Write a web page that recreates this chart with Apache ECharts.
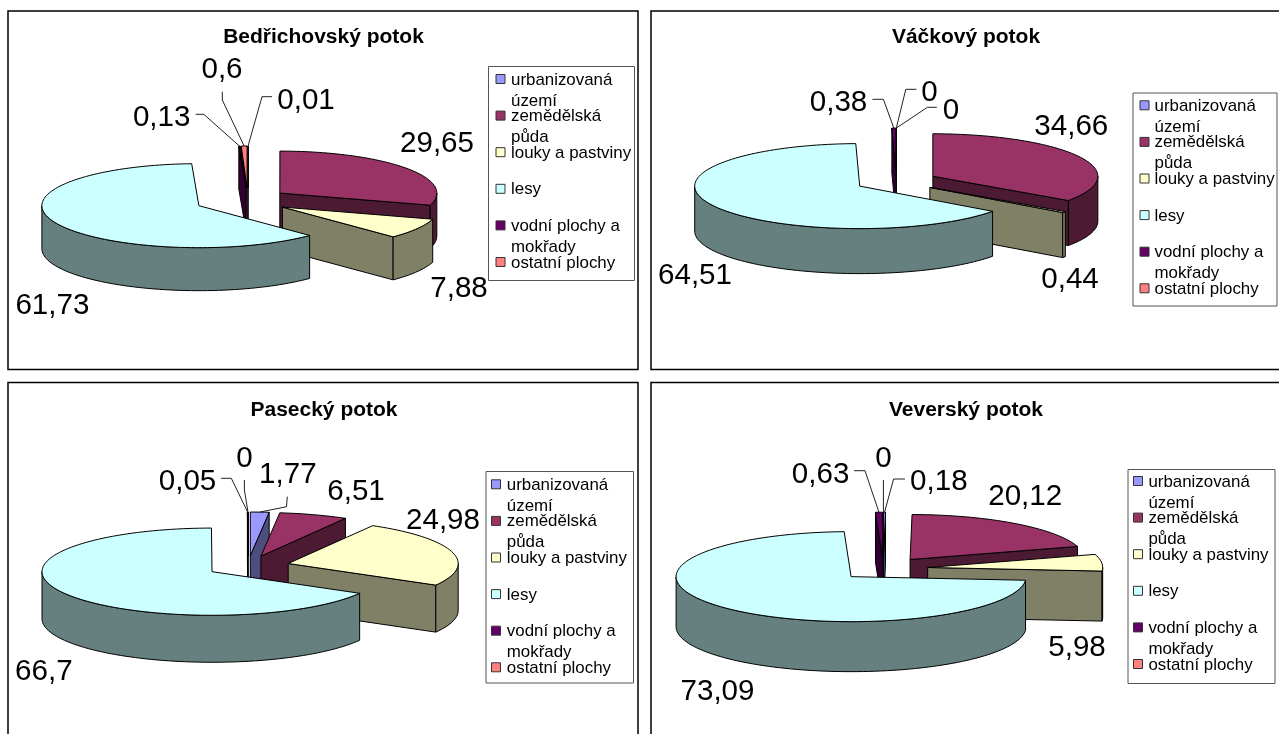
<!DOCTYPE html>
<html lang="cs">
<head>
<meta charset="utf-8">
<title>Využití půdy v povodích</title>
<style>
  html, body { margin: 0; padding: 0; background: #fff; }
  #chart { width: 1279px; height: 734px; }
</style>
<script src="https://cdn.jsdelivr.net/npm/echarts@6/dist/echarts.min.js"></script>
</head>
<body>
<div id="chart"></div>
<script>
// Land use categories, clockwise from twelve o'clock
const categories = ['urbanizovaná\núzemí', 'zemědělská\npůda', 'louky a pastviny', 'lesy', 'vodní plochy a\nmokřady', 'ostatní plochy'];
const basins = ['Bedřichovský potok', 'Váčkový potok', 'Pasecký potok', 'Veverský potok'];

// Percentage share per basin, same order as categories
const bedrichovsky = [0.01, 29.65, 7.88, 61.73, 0.13, 0.6];
const vackovy = [0, 34.66, 0.44, 64.51, 0.38, 0];
const pasecky = [1.77, 6.51, 24.98, 66.7, 0.05, 0];
const veversky = [0.18, 20.12, 5.98, 73.09, 0.63, 0];
const basinValues = [bedrichovsky, vackovy, pasecky, veversky];

const topColors = ['#9999FF', '#993366', '#FFFFCC', '#CCFFFF', '#660066', '#FF8080'];
const sideColors = ['#4D4D80', '#4D1A33', '#808066', '#668080', '#330033', '#804040'];

// Panel layout: pie ellipse, extrusion, explosion, frame, legend box, title and label placement
const layouts = [
  { cx: 242, cy: 200.6, rx: 157, ry: 42, depth: 43, explode: 0.3, thinShift: 6,
    frame: [8, 11, 638, 369.5], legend: [488.5, 66.5, 634.5, 280.5], swatchX: 500.5, rowY: 79, textX: 511,
    title: [323.5, 36.5],
    labels: [
      { at: [306, 99], lead: [[272, 96.7], [262, 96.7]] },
      { at: [437, 141.7] }, { at: [459, 286.7] }, { at: [52.4, 304] },
      { at: [161.7, 115.7], lead: [[195.7, 114.3], [203.8, 114.3]] },
      { at: [222, 68], lead: [[222.3, 91.7], [222.3, 100]] }
    ] },
  { cx: 896.3, cy: 181.2, rx: 165, ry: 42.5, depth: 45, explode: 0.25, thinShift: 0,
    frame: [651, 11, 1290, 369.5], legend: [1133, 93, 1277, 306], swatchX: 1144.5, rowY: 105.3, textX: 1154.5,
    title: [966, 36.5],
    labels: [
      { at: [951, 109], lead: [[936.8, 107.3], [927.4, 107.3]] },
      { at: [1071.3, 125] }, { at: [1070, 278.3] }, { at: [695, 274] },
      { at: [838.5, 101], lead: [[872.4, 99.3], [883.4, 99.3]] },
      { at: [929.4, 90.7], lead: [[916.4, 89.3], [905.8, 89.3]] }
    ] },
  { cx: 248, cy: 566.3, rx: 170, ry: 43.6, depth: 47, explode: 0.245, thinShift: 0,
    frame: [8, 382.5, 638, 745], legend: [486, 471.5, 633.5, 683], swatchX: 496, rowY: 484.3, textX: 506.8,
    title: [324, 409],
    labels: [
      { at: [287.8, 473.3], lead: [[287.3, 496.7], [286.5, 506.7]] },
      { at: [356, 490] }, { at: [443, 519] }, { at: [43.8, 670] },
      { at: [187.5, 480], lead: [[221, 478.3], [231.3, 478.3]] },
      { at: [244.4, 456.7], lead: [[244.4, 480], [244.4, 490]] }
    ] },
  { cx: 883.3, cy: 568.7, rx: 175, ry: 45, depth: 50, explode: 0.255, thinShift: 0,
    frame: [651, 382.5, 1290, 745], legend: [1128, 469.5, 1275, 683.5], swatchX: 1138, rowY: 481, textX: 1148.4,
    title: [966, 409],
    labels: [
      { at: [938.8, 480], lead: [[905, 479], [893.6, 479]] },
      { at: [1025.2, 495] }, { at: [1077, 645.7] }, { at: [717.5, 690] },
      { at: [820.6, 472.7], lead: [[854, 470.7], [865, 470.7]] },
      { at: [883.4, 456.7], lead: [[883.4, 480], [883.4, 511]] }
    ] }
];

const FONT = '"Liberation Sans", Arial, sans-serif';
const VALUE_STRETCH = 1.02;
const LEGEND_STRETCH = 1.03;
const TITLE_STRETCH = 1.05;
const ROW_PITCH = 36.6;
const WRAP_PITCH = 21;
const DEG = Math.PI / 180;

// Turn a share list into exploded wedges with screen geometry
function buildWedges(values, p) {
  const total = values.reduce((a, b) => a + b, 0);
  let cum = 0;
  const wedges = values.map((v, i) => {
    const t0 = cum / total * 360;
    cum += v;
    const t1 = cum / total * 360;
    const mid = (t0 + t1) / 2;
    // Slivers near twelve o'clock sit a touch right of the pie's centre line
    const shift = (t1 - t0) < 5 && (mid < 10 || mid > 350) ? p.thinShift : 0;
    const ax = p.cx + shift + p.explode * p.rx * Math.sin(mid * DEG);
    const ay = p.cy - p.explode * p.ry * Math.cos(mid * DEG);
    const rim = t => [ax + p.rx * Math.sin(t * DEG), ay - p.ry * Math.cos(t * DEG)];
    const arc = (a, b) => {
      const n = Math.max(1, Math.ceil((b - a) / 2));
      const pts = [];
      for (let k = 0; k <= n; k++) pts.push(rim(a + (b - a) * k / n));
      return pts;
    };
    const topArc = arc(t0, t1);
    const frontY = Math.max(ay, ...topArc.map(q => q[1]));
    return { i, v, t0, t1, mid, ax, ay, rim, arc, topArc, frontY };
  });
  // Back to front, so nearer wedges paint over farther ones
  return wedges.slice().sort((a, b) => a.frontY - b.frontY);
}

function wedgeElements(w, p, rank) {
  const line = { stroke: '#000', lineWidth: 1, lineJoin: 'round' };
  const drop = q => [q[0], q[1] + p.depth];
  const kids = [];
  let z = rank * 10;
  const face = (points, fill) => kids.push({
    type: 'polygon', z2: z++, shape: { points }, style: Object.assign({ fill }, line)
  });
  const cut = t => {
    const r = w.rim(t), a = [w.ax, w.ay];
    face([a, r, drop(r), drop(a)], sideColors[w.i]);
  };
  // Cut faces show only when they turn towards the viewer
  if (Math.sin(w.t0 * DEG) < 0) cut(w.t0);
  if (Math.sin(w.t1 * DEG) > 0) cut(w.t1);
  const from = Math.max(w.t0, 90), to = Math.min(w.t1, 270);
  if (from < to) {
    const upper = w.arc(from, to);
    face(upper.concat(upper.map(drop).reverse()), sideColors[w.i]);
  }
  face([[w.ax, w.ay]].concat(w.topArc), topColors[w.i]);
  return kids;
}

function labelElements(w, p) {
  const spec = p.labels[w.i];
  const kids = [];
  if (spec.lead) {
    kids.push({
      type: 'polyline', z2: 200,
      shape: { points: spec.lead.concat([w.rim(w.mid)]) },
      style: { stroke: '#222', lineWidth: 1, fill: null }
    });
  }
  kids.push({
    type: 'text', z2: 210, x: spec.at[0], y: spec.at[1] + 2, scaleX: VALUE_STRETCH,
    style: {
      text: String(w.v).replace('.', ','), font: '29px ' + FONT, fill: '#000',
      align: 'center', verticalAlign: 'middle'
    }
  });
  return kids;
}

const series = basinValues.map((values, b) => {
  const p = layouts[b];
  const wedges = buildWedges(values, p);
  return {
    type: 'custom',
    name: basins[b],
    coordinateSystem: 'none',
    silent: true,
    animation: false,
    clip: false,
    data: wedges.map(w => [w.v]),
    renderItem: params => {
      const w = wedges[params.dataIndex];
      return {
        type: 'group',
        children: wedgeElements(w, p, params.dataIndex).concat(labelElements(w, p))
      };
    }
  };
});

// Frames, titles and legend boxes for each panel
const graphic = [];
layouts.forEach((p, b) => {
  const [fx0, fy0, fx1, fy1] = p.frame;
  graphic.push({
    type: 'rect', silent: true,
    shape: { x: fx0, y: fy0, width: fx1 - fx0, height: fy1 - fy0 },
    style: { fill: '#fff', stroke: '#000', lineWidth: 1.5 }
  });
  graphic.push({
    type: 'text', silent: true, x: p.title[0], y: p.title[1] + 1, scaleX: TITLE_STRETCH,
    style: { text: basins[b], font: 'bold 20px ' + FONT, fill: '#000', align: 'center', verticalAlign: 'middle' }
  });
  const [lx0, ly0, lx1, ly1] = p.legend;
  graphic.push({
    type: 'rect', silent: true,
    shape: { x: lx0, y: ly0, width: lx1 - lx0, height: ly1 - ly0 },
    style: { fill: '#fff', stroke: '#555', lineWidth: 1 }
  });
  categories.forEach((name, i) => {
    const y = p.rowY + i * ROW_PITCH;
    graphic.push({
      type: 'rect', silent: true,
      shape: { x: p.swatchX - 4.5, y: y - 4.5, width: 9, height: 9 },
      style: { fill: topColors[i], stroke: '#333', lineWidth: 1 }
    });
    name.split('\n').forEach((part, k) => {
      graphic.push({
        type: 'text', silent: true, x: p.textX, y: y + 1 + k * WRAP_PITCH, scaleX: LEGEND_STRETCH,
        style: { text: part, font: '16.4px ' + FONT, fill: '#000', align: 'left', verticalAlign: 'middle' }
      });
    });
  });
});

const chart = echarts.init(document.getElementById('chart'), null, { renderer: 'canvas' });
chart.setOption({
  backgroundColor: '#fff',
  animation: false,
  graphic: { elements: graphic },
  series
});
</script>
</body>
</html>
